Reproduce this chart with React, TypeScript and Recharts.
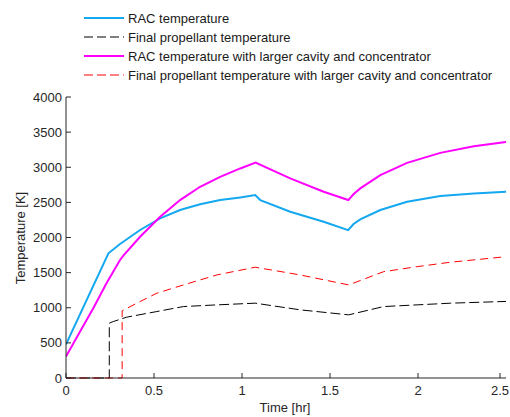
import React from "react";
import { LineChart, Line, XAxis, YAxis } from "recharts";

// RAC temperature
const racTime = [0, 0.241, 0.307, 0.421, 0.535, 0.648, 0.762, 0.876, 0.99, 1.075, 1.104, 1.274, 1.464, 1.603, 1.634, 1.672, 1.786, 1.938, 2.127, 2.317, 2.5];
const racTemp = [480, 1775, 1908, 2107, 2273, 2391, 2472, 2533, 2571, 2604, 2533, 2367, 2225, 2104, 2192, 2258, 2391, 2509, 2590, 2628, 2650];

// Final propellant temperature
const propTime = [0, 0.246, 0.246, 0.269, 0.345, 0.516, 0.667, 0.857, 1.075, 1.331, 1.606, 1.805, 1.995, 2.184, 2.5];
const propTemp = [0, 0, 781, 804, 866, 946, 1017, 1041, 1065, 970, 899, 1017, 1041, 1065, 1090];

// RAC temperature with larger cavity and concentrator
const bigRacTime = [0, 0.08, 0.155, 0.23, 0.307, 0.327, 0.421, 0.535, 0.648, 0.762, 0.876, 0.99, 1.077, 1.274, 1.464, 1.604, 1.633, 1.672, 1.786, 1.938, 2.127, 2.317, 2.5];
const bigRacTemp = [307, 662, 994, 1349, 1680, 1745, 2011, 2296, 2533, 2722, 2864, 2983, 3065, 2841, 2651, 2533, 2615, 2699, 2888, 3063, 3205, 3300, 3360];

// Final propellant temperature with larger cavity and concentrator
const bigPropTime = [0, 0.319, 0.319, 0.402, 0.516, 0.667, 0.857, 1.075, 1.331, 1.606, 1.805, 1.995, 2.184, 2.5];
const bigPropTemp = [0, 0, 956, 1065, 1207, 1325, 1467, 1577, 1467, 1325, 1514, 1585, 1648, 1727];

const xTicks = [0, 0.5, 1, 1.5, 2, 2.5];
const yTicks = [0, 500, 1000, 1500, 2000, 2500, 3000, 3500, 4000];

const toRows = (ts: number[], vs: number[]) => ts.map((t, i) => ({ t, v: vs[i] }));

const series = [
    { name: "RAC temperature", data: toRows(racTime, racTemp), color: "#14a8f0", width: 2, dash: undefined },
    { name: "Final propellant temperature", data: toRows(propTime, propTemp), color: "#000000", width: 1, dash: "10 4" },
    { name: "RAC temperature with larger cavity and concentrator", data: toRows(bigRacTime, bigRacTemp), color: "#ff00ff", width: 2, dash: undefined },
    { name: "Final propellant temperature with larger cavity and concentrator", data: toRows(bigPropTime, bigPropTemp), color: "#ff0000", width: 1, dash: "8 5" },
];

const font = "'Liberation Sans', Arial, sans-serif";
const axisColor = "#262626";

const XTick = (props: any) => {
    const { x, y, payload } = props;
    return (
        <g>
            <line x1={x} x2={x} y1={y} y2={y - 5} stroke={axisColor} />
            <text x={x} y={y + 17} textAnchor="middle" fontSize={13} fontFamily={font} fill={axisColor}>
                {payload.value}
            </text>
        </g>
    );
};

const YTick = (props: any) => {
    const { x, y, payload } = props;
    return (
        <g>
            <line x1={x} x2={x + 5} y1={y} y2={y} stroke={axisColor} />
            <text x={x - 4} y={y + 4.5} textAnchor="end" fontSize={13} fontFamily={font} fill={axisColor}>
                {payload.value}
            </text>
        </g>
    );
};

// legend drawn on top of the chart, MATLAB style
const LegendBox = () => (
    <svg width={510} height={90} style={{ position: "absolute", left: 0, top: 0 }}>
        {series.map((s, i) => {
            const y = 18 + i * 19;
            return (
                <g key={s.name}>
                    <line x1={84} x2={124} y1={y} y2={y} stroke={s.color} strokeWidth={s.width} strokeDasharray={s.dash ? "9 4" : undefined} />
                    <text x={128} y={y + 5} fontSize={13} fontFamily={font} fill="#1a1a1a">
                        {s.name}
                    </text>
                </g>
            );
        })}
    </svg>
);

export default function App() {
    return (
        <div style={{ position: "absolute", left: 0, top: 0, width: 510, height: 417, background: "#fff" }}>
            <LineChart width={510} height={417} margin={{ top: 97, right: 4, bottom: 19, left: 16 }}>
                <XAxis
                    type="number"
                    dataKey="t"
                    domain={[0, 2.5]}
                    ticks={xTicks}
                    tick={<XTick />}
                    tickLine={false}
                    tickSize={0}
                    tickMargin={0}
                    height={20}
                    axisLine={{ stroke: axisColor }}
                    allowDataOverflow
                />
                <YAxis
                    type="number"
                    dataKey="v"
                    domain={[0, 4000]}
                    ticks={yTicks}
                    tick={<YTick />}
                    tickLine={false}
                    tickSize={0}
                    tickMargin={0}
                    width={50}
                    axisLine={{ stroke: axisColor }}
                    interval={0}
                />
                {series.map((s) => (
                    <Line
                        key={s.name}
                        name={s.name}
                        data={s.data}
                        dataKey="v"
                        type="linear"
                        stroke={s.color}
                        strokeWidth={s.width}
                        strokeDasharray={s.dash}
                        dot={false}
                        activeDot={false}
                        isAnimationActive={false}
                    />
                ))}
                <text x={20} y={238} transform="rotate(-90 20 238)" textAnchor="middle" dominantBaseline="central" fontSize={13} fontFamily={font} fill={axisColor}>
                    Temperature [K]
                </text>
                <text x={285} y={412} textAnchor="middle" fontSize={13} fontFamily={font} fill={axisColor}>
                    Time [hr]
                </text>
            </LineChart>
            <LegendBox />
        </div>
    );
}
